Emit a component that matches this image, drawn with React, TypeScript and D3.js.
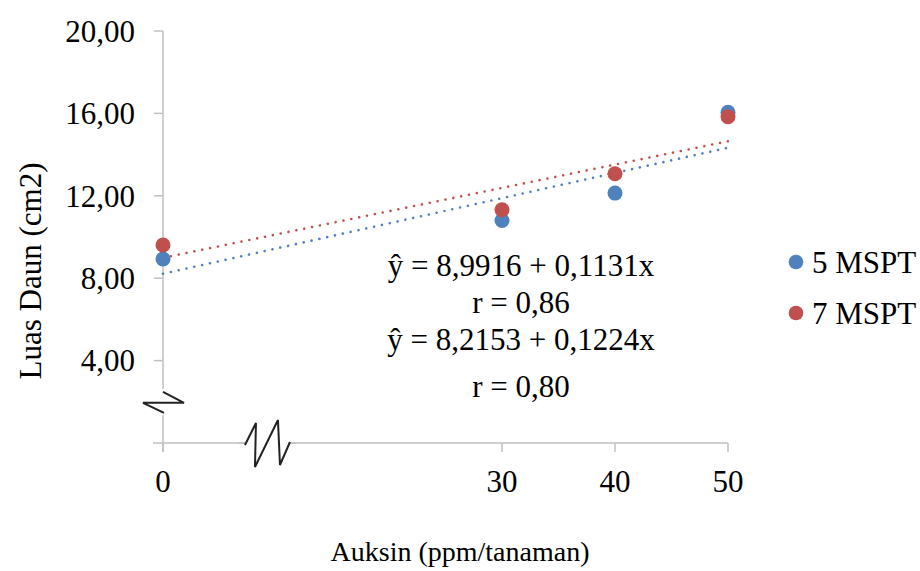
import React, { useEffect } from "react";
import * as d3 from "d3";

const xValues = [0, 30, 40, 50];
const seriesNames = ["5 MSPT", "7 MSPT"];
const series5 = [8.93, 10.8, 12.13, 16.05];
const series7 = [9.61, 11.32, 13.07, 15.84];
const trendIntercepts = [8.2153, 8.9916];
const trendSlopes = [0.1224, 0.1131];
const yTicks = [4, 8, 12, 16, 20];
const xTicks = [0, 30, 40, 50];
const eqLines = ["ŷ = 8,9916 + 0,1131x", "r = 0,86", "ŷ = 8,2153 + 0,1224x", "r = 0,80"];
const colors = ["#4f81bd", "#c0504d"];

const W = 920;
const H = 571;
const FONT = "'Liberation Serif', 'Times New Roman', serif";

export default function App() {
  useEffect(() => {
    document.body.style.margin = "0";
  }, []);

  const x = d3.scaleLinear().domain([0, 50]).range([163, 728]);
  const y = d3.scaleLinear().domain([0, 20]).range([443, 31]);
  const fmt = (v: number) => d3.format(".2f")(v).replace(".", ",");
  const axisColor = "#bfbfbf";
  const allSeries = [series5, series7];

  const trend = d3
    .line<number>()
    .x((d) => x(d))
    .y((d, i) => 0);

  const yb = y(2.0);
  const xb = x(9.2);
  const y0 = y(0);

  return (
    <svg width={W} height={H} style={{ position: "absolute", left: 0, top: 0, background: "#fff" }} fontFamily={FONT}>
      {/* axes */}
      <line x1={x(0)} x2={x(0)} y1={y(20)} y2={y0 + 9} stroke={axisColor} strokeWidth={1.5} />
      <line x1={x(0) - 10} x2={x(50)} y1={y0} y2={y0} stroke={axisColor} strokeWidth={1.5} />
      {yTicks.map((t) => (
        <g key={"yt" + t}>
          <line x1={x(0) - 9} x2={x(0)} y1={y(t)} y2={y(t)} stroke={axisColor} strokeWidth={1.5} />
          <text x={135} y={y(t)} dy="0.35em" textAnchor="end" fontSize={31} fill="#000">
            {fmt(t)}
          </text>
        </g>
      ))}
      {xTicks.map((t) => (
        <g key={"xt" + t}>
          <line x1={x(t)} x2={x(t)} y1={y0} y2={y0 + 9} stroke={axisColor} strokeWidth={1.5} />
          <text x={x(t)} y={492} textAnchor="middle" fontSize={31} fill="#000">
            {t}
          </text>
        </g>
      ))}

      {/* axis break symbols */}
      <rect x={x(0) - 22} y={yb - 13} width={46} height={26} fill="#fff" />
      <polyline
        points={[[0, -10], [21, 1], [-20, 1], [1, 11]].map(([dx, dy]) => `${x(0) + dx},${yb + dy}`).join(" ")}
        fill="none"
        stroke="#222"
        strokeWidth={2}
        strokeLinejoin="miter"
      />
      <rect x={xb - 22} y={y0 - 25} width={44} height={52} fill="#fff" />
      <line x1={xb - 28} x2={xb - 22} y1={y0} y2={y0} stroke={axisColor} strokeWidth={1.5} />
      <line x1={xb + 22} x2={xb + 28} y1={y0} y2={y0} stroke={axisColor} strokeWidth={1.5} />
      <polyline
        points={[[-22, 2], [-11, -20], [-12, 24], [11, -23], [13, 22], [23, -1]]
          .map(([dx, dy]) => `${xb + dx},${y0 + dy}`)
          .join(" ")}
        fill="none"
        stroke="#222"
        strokeWidth={2}
      />

      {/* trendlines */}
      {trendIntercepts.map((b, i) => (
        <line
          key={"tr" + i}
          x1={x(0)}
          y1={y(b)}
          x2={x(50)}
          y2={y(b + trendSlopes[i] * 50)}
          stroke={colors[i]}
          strokeWidth={2.6}
          strokeDasharray="0.01 8"
          strokeLinecap="round"
        />
      ))}

      {/* points */}
      {allSeries.map((s, si) =>
        s.map((v, i) => (
          <circle key={`p${si}-${i}`} cx={x(xValues[i])} cy={y(v)} r={7.5} fill={colors[si]} />
        ))
      )}

      {/* equations */}
      {eqLines.map((t, i) => (
        <text key={"eq" + i} x={521} y={[276, 313, 350, 397][i]} textAnchor="middle" fontSize={31} fill="#000">
          {t}
        </text>
      ))}

      {/* legend */}
      {seriesNames.map((n, i) => (
        <g key={"lg" + i}>
          <circle cx={796} cy={262 + i * 51} r={7.3} fill={colors[i]} />
          <text x={812} y={262 + i * 51} dy="0.35em" fontSize={31} fill="#000">
            {n}
          </text>
        </g>
      ))}

      {/* axis titles */}
      <text x={460} y={561} textAnchor="middle" fontSize={28} fill="#000">
        Auksin (ppm/tanaman)
      </text>
      <text transform={`translate(41,271) rotate(-90)`} textAnchor="middle" fontSize={31} fill="#000">
        Luas Daun (cm2)
      </text>
    </svg>
  );
}
